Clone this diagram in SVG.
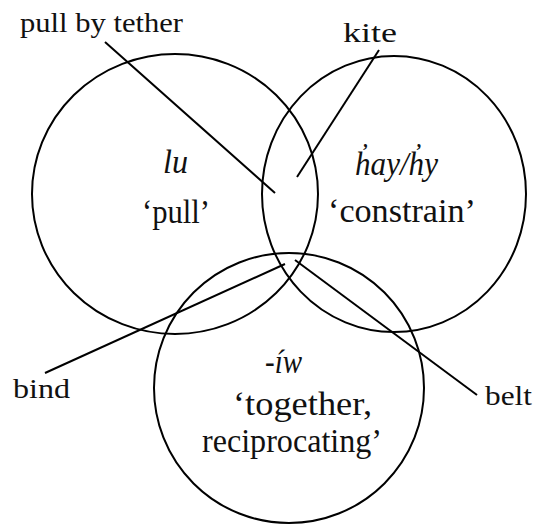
<svg xmlns="http://www.w3.org/2000/svg" width="538" height="525" viewBox="0 0 538 525" font-family="Liberation Serif, Times New Roman, serif">
  <style>
    .ring { fill: none; stroke: #000; stroke-width: 2; }
    .lead { stroke: #000; stroke-width: 2; fill: none; }
    .label { font-size: 27px; fill: #111; }
    .term { font-size: 34px; font-style: italic; fill: #111; }
    .gloss { font-size: 34px; fill: #111; }
  </style>
  <rect width="538" height="525" fill="#fff"/>

  <!-- meaning sets -->
  <g id="set-lu">
    <ellipse class="ring" cx="175" cy="194" rx="143" ry="140"/>
    <text class="term" font-family="Liberation Serif" x="163" y="173" textLength="25" lengthAdjust="spacingAndGlyphs">lu</text>
    <text class="gloss" font-family="Liberation Serif" x="142" y="223" textLength="68" lengthAdjust="spacingAndGlyphs">‘pull’</text>
  </g>
  <g id="set-hay">
    <ellipse class="ring" cx="394" cy="194" rx="132" ry="138"/>
    <text class="term" font-family="Liberation Serif" x="355" y="175" textLength="83" lengthAdjust="spacingAndGlyphs">h̓ay/h̓y</text>
    <text class="gloss" font-family="Liberation Serif" x="328" y="222" textLength="148" lengthAdjust="spacingAndGlyphs">‘constrain’</text>
  </g>
  <g id="set-iw">
    <circle class="ring" cx="289" cy="388" r="135"/>
    <text class="term" font-family="Liberation Serif" x="265" y="373" textLength="37" lengthAdjust="spacingAndGlyphs">-íw</text>
    <text class="gloss" font-family="Liberation Serif" x="233" y="415" textLength="139" lengthAdjust="spacingAndGlyphs">‘together,</text>
    <text class="gloss" font-family="Liberation Serif" x="202" y="452" textLength="180" lengthAdjust="spacingAndGlyphs">reciprocating’</text>
  </g>

  <!-- callout labels -->
  <g id="label-pull-by-tether">
    <text class="label" font-family="Liberation Serif" x="20" y="32" textLength="163" lengthAdjust="spacingAndGlyphs">pull by tether</text>
  </g>
  <g id="label-kite">
    <text class="label" font-family="Liberation Serif" x="343" y="42" textLength="54" lengthAdjust="spacingAndGlyphs">kite</text>
  </g>
  <g id="label-bind">
    <text class="label" font-family="Liberation Serif" x="13" y="398" textLength="57" lengthAdjust="spacingAndGlyphs">bind</text>
  </g>
  <g id="label-belt">
    <text class="label" font-family="Liberation Serif" x="485" y="405" textLength="47" lengthAdjust="spacingAndGlyphs">belt</text>
  </g>

  <!-- leader lines from labels into the overlaps -->
  <g id="connectors">
    <line class="lead" x1="105" y1="42" x2="275" y2="193"/>
    <line class="lead" x1="379" y1="50" x2="297" y2="177"/>
    <line class="lead" x1="45" y1="373" x2="285" y2="264"/>
    <line class="lead" x1="295" y1="260" x2="477" y2="395"/>
  </g>
</svg>
